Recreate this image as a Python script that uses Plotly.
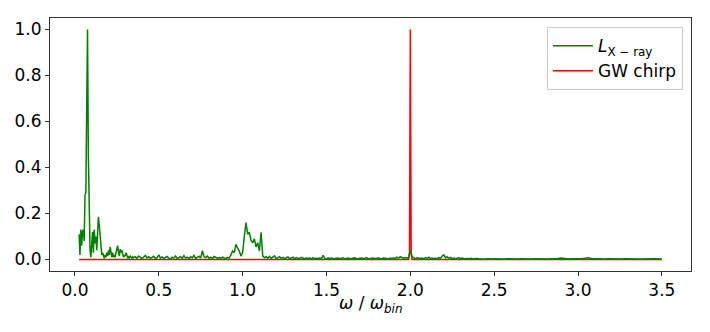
import numpy as np
import plotly.graph_objects as go

# ---- data ----
# X-ray luminosity spectrum, low-frequency part (grid 0.025 .. 0.350, step 0.005)
xray_lo_start, xray_lo_step = 0.025, 0.005
xray_lo = [0.11, 0.02, 0.13, 0.06, 0.12, 0.13, 0.08, 0.28, 0.29, 0.62,
           1.00, 0.45, 0.20, 0.04, 0.01, 0.06, 0.12, 0.03, 0.13, 0.07,
           0.10, 0.04, 0.12, 0.185, 0.15, 0.09, 0.05, 0.02, 0.03, 0.01,
           0.005, 0.02, 0.01, 0.03, 0.015, 0.04, 0.02, 0.055, 0.02, 0.01,
           0.03, 0.01, 0.02, 0.01, 0.03, 0.045, 0.06, 0.03, 0.015, 0.045,
           0.03, 0.04, 0.015, 0.01, 0.02, 0.015, 0.03, 0.01, 0.005, 0.012,
           0.008, 0.015, 0.01, 0.005, 0.012, 0.008]
# mid-frequency part (grid 0.36 .. 2.50, step 0.01)
xray_mid_start, xray_mid_step = 0.36, 0.01
xray_mid = [0.012, 0.006, 0.015, 0.008, 0.004, 0.010, 0.018, 0.007, 0.012, 0.005,
            0.009, 0.014, 0.004, 0.008, 0.020, 0.006, 0.011, 0.004, 0.009, 0.013,
            0.005, 0.003, 0.010, 0.006, 0.015, 0.004, 0.008, 0.012, 0.005, 0.017,
            0.006, 0.010, 0.004, 0.012, 0.007, 0.018, 0.005, 0.009, 0.014, 0.006,
            0.038, 0.012, 0.008, 0.015, 0.005, 0.010, 0.004, 0.013, 0.008, 0.006,
            0.008, 0.005, 0.010, 0.006, 0.004, 0.009, 0.006, 0.020, 0.037, 0.030,
            0.066, 0.050, 0.037, 0.015, 0.030, 0.100, 0.160, 0.110, 0.118, 0.083,
            0.073, 0.090, 0.055, 0.073, 0.037, 0.118, 0.015, 0.008, 0.012, 0.006,
            0.014, 0.005, 0.010, 0.016, 0.004, 0.008, 0.012, 0.005, 0.009, 0.004,
            0.007, 0.011, 0.004, 0.006, 0.010, 0.003, 0.008, 0.005, 0.004, 0.009,
            0.005, 0.003, 0.007, 0.004, 0.006, 0.003, 0.008, 0.004, 0.005, 0.003,
            0.006, 0.004, 0.018, 0.005, 0.003, 0.006, 0.004, 0.007, 0.003, 0.005,
            0.004, 0.006, 0.003, 0.005, 0.007, 0.003, 0.004, 0.006, 0.003, 0.005,
            0.004, 0.007, 0.003, 0.005, 0.004, 0.006, 0.003, 0.004, 0.008, 0.003,
            0.005, 0.004, 0.006, 0.003, 0.005, 0.007, 0.004, 0.003, 0.006, 0.004,
            0.005, 0.003, 0.006, 0.004, 0.007, 0.005, 0.010, 0.006, 0.012, 0.007,
            0.005, 0.008, 0.006, 0.010, 0.040, 0.012, 0.006, 0.004, 0.007, 0.005,
            0.004, 0.006, 0.003, 0.008, 0.005, 0.010, 0.004, 0.006, 0.003, 0.005,
            0.004, 0.008, 0.006, 0.015, 0.020, 0.007, 0.012, 0.005, 0.009, 0.004,
            0.006, 0.003, 0.005, 0.008, 0.004, 0.006, 0.003, 0.005, 0.004, 0.003,
            0.005, 0.003, 0.004, 0.002, 0.004, 0.003, 0.002, 0.004, 0.003, 0.002,
            0.003, 0.002, 0.004, 0.002, 0.003]
# high-frequency part (grid 2.52 .. 3.50, step 0.02)
xray_hi_start, xray_hi_step = 2.52, 0.02
xray_hi = [0.002, 0.003, 0.002, 0.003, 0.002, 0.004, 0.002, 0.003, 0.002, 0.003,
           0.002, 0.003, 0.002, 0.002, 0.003, 0.002, 0.003, 0.002, 0.004, 0.006,
           0.003, 0.002, 0.003, 0.002, 0.004, 0.003, 0.005, 0.008, 0.004, 0.003,
           0.002, 0.003, 0.002, 0.003, 0.002, 0.002, 0.003, 0.002, 0.003, 0.002,
           0.002, 0.003, 0.002, 0.002, 0.003, 0.002, 0.002, 0.003, 0.002, 0.002]

# GW chirp spectrum
gw_freq = [0.025, 1.99, 1.995, 2.0, 2.005, 2.01, 3.5]
gw_amp = [0.0, 0.0, 0.03, 1.0, 0.03, 0.0, 0.0]

x_ticks = [0.0, 0.5, 1.0, 1.5, 2.0, 2.5, 3.0, 3.5]
y_ticks = [0.0, 0.2, 0.4, 0.6, 0.8, 1.0]
x_title = "<i>ω</i> / <i>ω<sub>bin</sub></i>"


def grid(start, step, vals):
    return [round(start + step * i, 4) for i in range(len(vals))]


xray_freq = (grid(xray_lo_start, xray_lo_step, xray_lo)
             + grid(xray_mid_start, xray_mid_step, xray_mid)
             + grid(xray_hi_start, xray_hi_step, xray_hi))
xray_amp = xray_lo + xray_mid + xray_hi

FONT = "DejaVu Sans"

fig = go.Figure()
fig.add_trace(go.Scatter(x=gw_freq, y=gw_amp, mode="lines", name="GW chirp",
                         line=dict(color="#ff0000", width=1.5), legendrank=2))
fig.add_trace(go.Scatter(x=xray_freq, y=xray_amp, mode="lines",
                         name="<i>L</i><sub>X − ray</sub>",
                         line=dict(color="#008000", width=1.5), legendrank=1))

xmin, xmax = min(xray_freq), max(xray_freq)
pad = 0.05 * (xmax - xmin)

axis_common = dict(showline=True, mirror=True, linecolor="#333333", linewidth=1,
                   ticks="outside", ticklen=4, tickcolor="#333333", tickwidth=1,
                   showgrid=False, zeroline=False, automargin=False,
                   tickfont=dict(family=FONT, size=17, color="black"))

fig.update_layout(
    width=710, height=332,
    margin=dict(l=50, r=19, t=18, b=61),
    plot_bgcolor="white", paper_bgcolor="white",
    font=dict(family=FONT, size=16, color="black"),
    xaxis=dict(range=[xmin - pad, xmax + pad], tickvals=x_ticks, tickformat=".1f",
               **axis_common),
    yaxis=dict(range=[-0.05, 1.05], tickvals=y_ticks, tickformat=".1f", **axis_common),
    legend=dict(x=0.9875, y=0.964, xanchor="right", yanchor="top",
                bgcolor="rgba(255,255,255,0.8)", bordercolor="#cccccc", borderwidth=1,
                font=dict(family=FONT, size=17), tracegroupgap=2, itemwidth=40),
    showlegend=True,
    annotations=[dict(text=x_title, xref="paper", yref="paper", x=0.5, y=-0.134,
                      xanchor="center", yanchor="middle", showarrow=False,
                      font=dict(family=FONT, size=17, color="black"))],
)

fig.write_html("out.html", config={"displayModeBar": False},
               post_script="document.body.style.margin='0px';document.body.style.padding='0px';")
